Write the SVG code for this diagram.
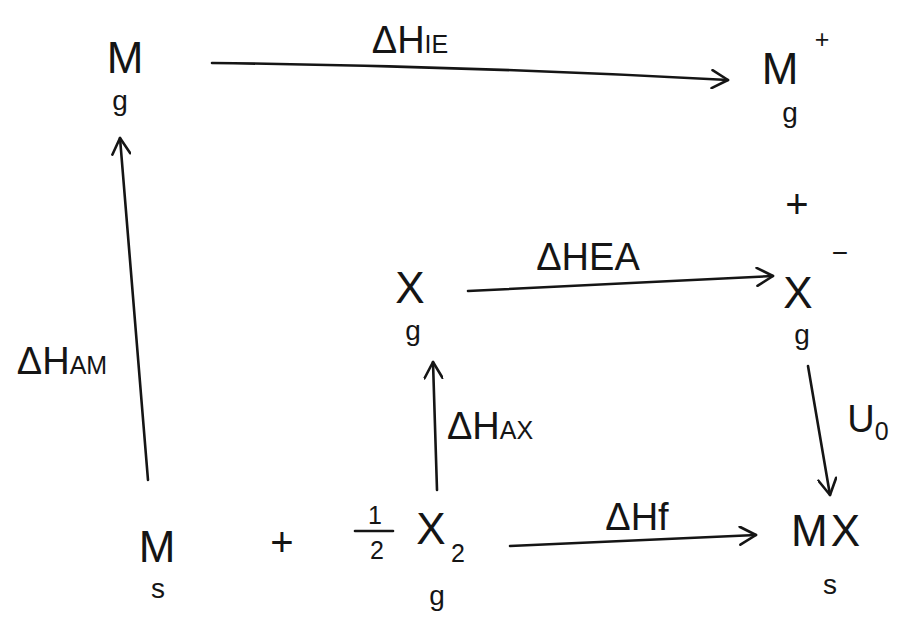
<svg xmlns="http://www.w3.org/2000/svg" width="905" height="620" viewBox="0 0 905 620">
<style>
.t{font-family:"Liberation Sans","DejaVu Sans",sans-serif;fill:#151515;text-anchor:middle}
.big{font-size:44px}
.sub{font-size:28px}
.lab{font-size:38px}
.sm{font-size:25px}
.pl{font-size:40px}
.ln{stroke:#151515;stroke-width:2.6;fill:none;stroke-linecap:round}
</style>
<defs>
<marker id="ah" viewBox="0 0 20 20" refX="18" refY="10" markerWidth="20" markerHeight="20" markerUnits="userSpaceOnUse" orient="auto">
<path d="M2,1 L18,10 L2,19" fill="none" stroke="#151515" stroke-width="2.6" stroke-linecap="round" stroke-linejoin="round"/>
</marker>
</defs>
<rect width="905" height="620" fill="#fff"/>
<g id="connectors">
<path class="ln" d="M212,63 Q470,66 728,80" marker-end="url(#ah)"/>
<path class="ln" d="M468,291 L773,276" marker-end="url(#ah)"/>
<path class="ln" d="M148,480 L120,138" marker-end="url(#ah)"/>
<path class="ln" d="M437,490 L433,362" marker-end="url(#ah)"/>
<path class="ln" d="M808,366 L830,495" marker-end="url(#ah)"/>
<path class="ln" d="M510,546 L756,535" marker-end="url(#ah)"/>
<text class="t lab" x="410" y="53">ΔH<tspan class="sm">IE</tspan></text>
<text class="t lab" x="588" y="270">ΔHEA</text>
<text class="t lab" x="62" y="374">ΔH<tspan class="sm">AM</tspan></text>
<text class="t lab" x="490" y="439">ΔH<tspan class="sm">AX</tspan></text>
<text class="t lab" x="637" y="530">ΔHf</text>
<text class="t lab" x="868" y="432">U<tspan class="sm" dy="8">0</tspan></text>
</g>
<g id="M_g">
<text class="t big" x="125" y="73">M</text>
<text class="t sub" x="120" y="110">g</text>
</g>
<g id="Mplus_g">
<text class="t big" x="780" y="84">M</text>
<text class="t sm" x="822" y="48">+</text>
<text class="t sub" x="790" y="122">g</text>
</g>
<g id="plus_right">
<text class="t pl" x="797" y="218">+</text>
</g>
<g id="Xminus_g">
<text class="t big" x="798" y="308">X</text>
<text class="t sub" x="840" y="262">−</text>
<text class="t sub" x="802" y="344">g</text>
</g>
<g id="X_g">
<text class="t big" x="410" y="303">X</text>
<text class="t sub" x="413" y="340">g</text>
</g>
<g id="M_s">
<text class="t big" x="157" y="562">M</text>
<text class="t sub" x="158" y="598">s</text>
</g>
<g id="plus_bottom">
<text class="t pl" x="282" y="556">+</text>
</g>
<g id="X2_g">
<text class="t sm" x="375" y="524">1</text>
<path class="ln" d="M355,531 L393,531"/>
<text class="t sm" x="377" y="559">2</text>
<text class="t big" x="431" y="544">X</text>
<text class="t sm" x="458" y="562">2</text>
<text class="t sub" x="437" y="605">g</text>
</g>
<g id="MX_s">
<text class="t big" x="827" y="546" letter-spacing="3">MX</text>
<text class="t sub" x="830" y="594">s</text>
</g>
</svg>
